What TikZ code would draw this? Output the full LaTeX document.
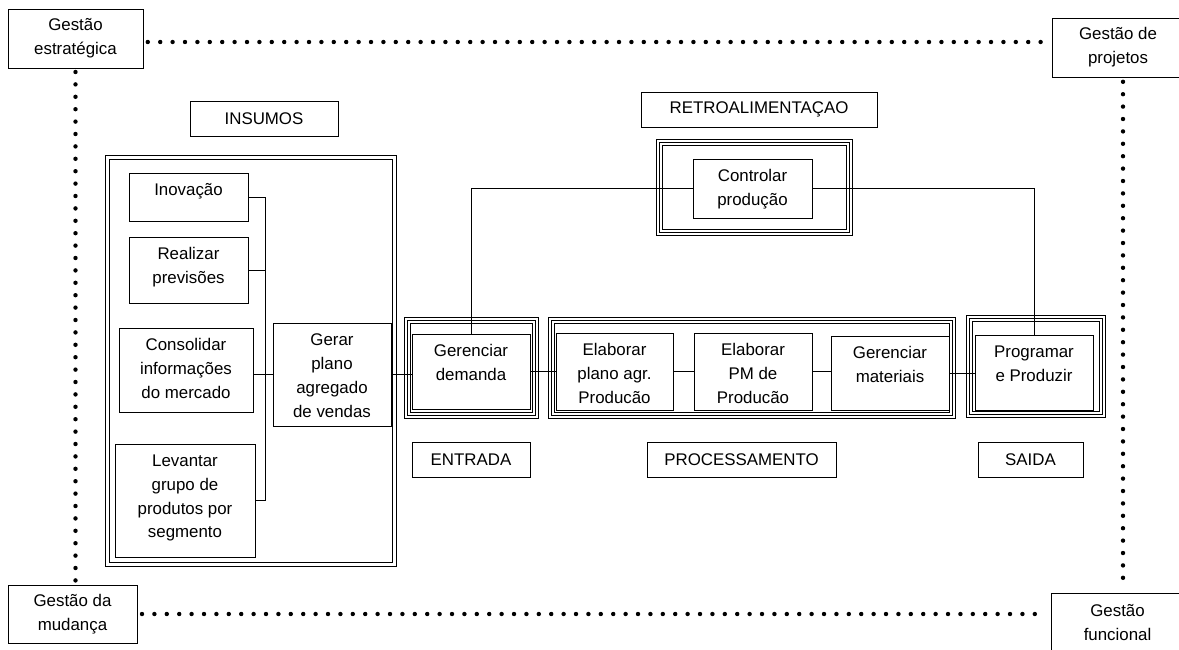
\documentclass[tikz,border=0pt]{standalone}
\usepackage{fontspec}
\setmainfont{Liberation Sans}
\usetikzlibrary{calc}

\begin{document}
\begin{tikzpicture}[x=0.25mm, y=-0.25mm, font=\fontsize{12}{17}\selectfont,
  box/.style={draw, line width=0.7pt, inner sep=0pt, outer sep=0pt},
  block/.style={box, label={[anchor=north, inner sep=0pt, yshift=-2.6mm, align=center]north:{#1}}},
  tag/.style={box, minimum height=8.75mm, align=center},
  frame2/.style={draw, line width=0.7pt, double, double distance=2.4pt},
  frame3/.style={draw, line width=4.3pt, inner sep=0pt, outer sep=0pt,
    postaction={draw=white, line width=2.9pt}, postaction={draw=black, line width=0.7pt}},
  dotrow/.style={line width=1.1mm, line cap=round, dash pattern=on 0pt off 3.1mm},
  link/.style={line width=0.7pt}]

\useasboundingbox (0,0) rectangle (1179,649);
\clip (0,0) rectangle (1179,649);

% =================================================================================
% the four management areas in the corners
% =================================================================================
\node[box, minimum width=33.75mm, minimum height=14.75mm, align=center] (ge) at (75.5,38.5) {Gestão\\estratégica};
\node[box, minimum width=33mm, minimum height=14.75mm, align=center] (gp) at (1118,47.5) {Gestão de\\projetos};
\node[box, minimum width=32.25mm, minimum height=14.5mm, align=center] (gm) at (72.5,614) {Gestão da\\mudança};
\node[box, minimum width=33.25mm, minimum height=14.75mm, align=center] (gf) at (1117.5,622.5) {Gestão\\funcional};

\coordinate (ytop) at (0,42);
\coordinate (xright) at (1123,0);
\draw[dotrow, shorten <=1.2mm, shorten >=1.5mm] (ge.east |- ytop) -- (gp.west |- ytop);
\draw[dotrow, shorten <=1mm, shorten >=0.5mm] (ge.south) -- (ge.south |- gm.north);
\draw[dotrow, shorten <=1.2mm, shorten >=1mm] (xright |- gp.south) -- (xright |- gf.north);
\draw[dotrow, shorten <=1.25mm, shorten >=1.5mm] (gm.east) -- (gm.east -| gf.west);

% =================================================================================
% section titles
% =================================================================================
\node[tag, minimum width=37mm]    (tins)  at (264,118.5)  {INSUMOS};
\node[tag, minimum width=59mm]    (tret)  at (759,109.5)  {RETROALIMENTAÇAO};
\node[tag, minimum width=29.5mm]  (tent)  at (471,459.5)  {ENTRADA};
\node[tag, minimum width=47.25mm] (tproc) at (741.5,459.5) {PROCESSAMENTO};
\node[tag, minimum width=26.25mm] (tsai)  at (1030.5,459.5) {SAIDA};

% =================================================================================
% frames, drawn first so the boxes sit on them
% =================================================================================
\node[frame2, minimum width=71.65mm, minimum height=101.65mm, inner sep=0pt] (fins) at (251,361) {};
\node[frame3, minimum width=47.5mm, minimum height=22.5mm] (fret)  at (754.5,187.5) {};
\node[frame3, minimum width=32mm, minimum height=23.75mm]  (fent)  at (471.5,368) {};
\node[frame3, minimum width=100.25mm, minimum height=23.75mm] (fproc) at (752,368) {};
\node[frame3, minimum width=33.25mm, minimum height=24mm]  (fsai)  at (1036,366.5) {};

% =================================================================================
% insumos
% =================================================================================
\node[block={Inovação}, minimum width=29.75mm, minimum height=12mm] (ino) at (188.5,197) {};
\node[block={Realizar\\previsões}, minimum width=29.75mm, minimum height=16.5mm] (rea) at (188.5,270) {};
\node[block={Consolidar\\informações\\do mercado}, minimum width=33.5mm, minimum height=21mm] (con) at (186,370) {};
\node[block={Levantar\\grupo de\\produtos por\\segmento}, minimum width=35mm, minimum height=28.25mm] (lev) at (185,500.5) {};
\node[block={Gerar\\plano\\agregado\\de vendas}, minimum width=29.5mm, minimum height=25.75mm] (ger) at (332,374.5) {};

\coordinate (trunk) at (265,0);
\draw[link] (ino.east) -- (ino.east -| trunk) -- (lev.east -| trunk) -- (lev.east);
\draw[link] (rea.east) -- (rea.east -| trunk);
\draw[link] (con.east |- ger.west) -- (ger.west);

% =================================================================================
% entrada, processamento, saida and the feedback loop
% =================================================================================
\node[block={Gerenciar\\demanda}, minimum width=29.5mm, minimum height=18.75mm] (gd) at (471,371.5) {};
\node[block={Elaborar\\plano agr.\\Producão}, minimum width=29.25mm, minimum height=19.25mm] (epa) at (614.5,371.5) {};
\node[block={Elaborar\\PM de\\Producão}, minimum width=29.5mm, minimum height=19.25mm] (epm) at (753,371.5) {};
\node[block={Gerenciar\\materiais}, minimum width=29.5mm, minimum height=18.5mm] (gma) at (890,373) {};
\node[block={Programar\\e Produzir}, minimum width=29.5mm, minimum height=18.75mm] (pp) at (1034,372.5) {};
\node[block={Controlar\\produção}, minimum width=29.75mm, minimum height=14.75mm] (cp) at (752.5,188.5) {};

\draw[link] (ger.east) -- (ger.east -| gd.west);
\draw[link] (gd.east) -- (epa.west);
\draw[link] (epa.east) -- (epm.west);
\draw[link] (epm.east) -- (epm.east -| gma.west);
\draw[link] (gma.east) -- (gma.east -| pp.west);
\draw[link] (gd.north) |- (cp.west);
\draw[link] (cp.east) -| (pp.north);

\end{tikzpicture}
\end{document}
